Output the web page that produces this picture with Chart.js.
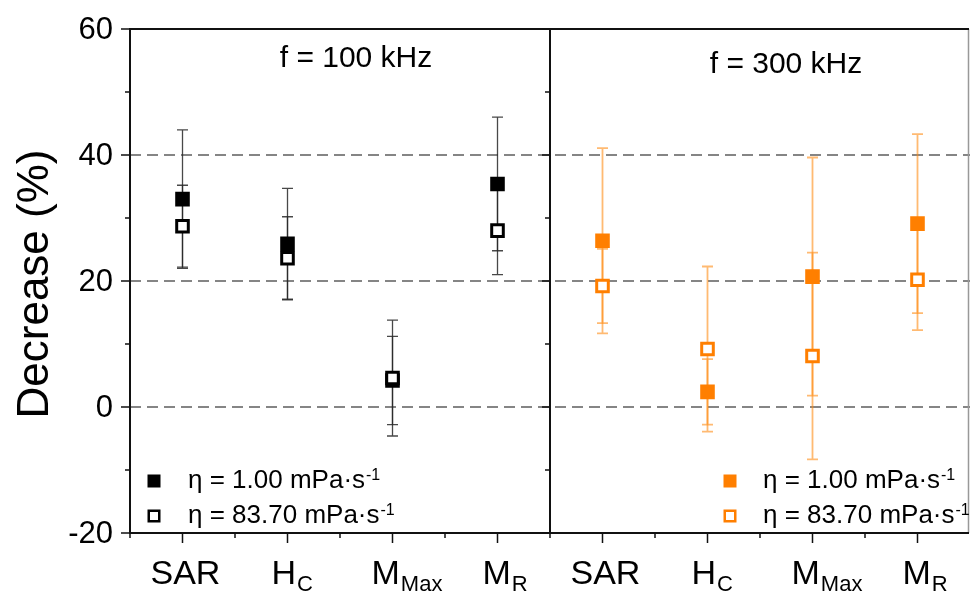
<!DOCTYPE html>
<html lang="en">
<head>
<meta charset="UTF-8">
<title>Decrease (%)</title>
<script src="https://cdn.jsdelivr.net/npm/chart.js@4"></script>
<style>
  html, body { margin: 0; padding: 0; background: #fff; }
  #wrap { width: 970px; height: 592px; }
</style>
</head>
<body>
<div id="wrap"><canvas id="chart" width="970" height="592"></canvas></div>
<script>
// categories and tick labels
const categories = ['SAR', 'HC', 'MMax', 'MR'];
const labelMain = ['SAR', 'H', 'M', 'M'];
const labelSub = ['', 'C', 'Max', 'R'];
const panelTitles = ['f = 100 kHz', 'f = 300 kHz'];
const yTicks = [-20, 0, 20, 40, 60];
const legendNames = ['\u03b7 = 1.00 mPa\u00b7s', '\u03b7 = 83.70 mPa\u00b7s'];

// f = 100 kHz
const low100 = [33.0, 25.9, 4.2, 35.4];
const low100Err = [11.0, 8.8, 7.0, 10.6];
const high100 = [28.7, 23.6, 4.6, 28.0];
const high100Err = [6.5, 6.6, 9.2, 7.0];

// f = 300 kHz
const low300 = [26.4, 2.4, 20.7, 29.1];
const low300Err = [14.7, 5.2, 18.9, 14.2];
const high300 = [19.2, 9.2, 8.1, 20.2];
const high300Err = [5.9, 13.1, 16.4, 8.0];

const FONT = '"Liberation Sans", Arial, sans-serif';
const BLACK = '#000000';
const ORANGE = '#FF7F00';
const blank = [null, null, null, null];

function series(values, errs, panel, filled) {
  const color = panel === 0 ? BLACK : ORANGE;
  return {
    data: panel === 0 ? values.concat(blank) : blank.concat(values),
    err: panel === 0 ? errs.concat(blank) : blank.concat(errs),
    errColor: panel === 0 ? 'rgba(40,40,40,0.85)' : 'rgba(255,140,20,0.6)',
    errWidth: panel === 0 ? 1.3 : 1.8,
    showLine: false,
    pointStyle: 'rect',
    pointRadius: 8.2,
    pointHoverRadius: 8.2,
    pointBorderWidth: 3,
    pointBorderColor: color,
    pointBackgroundColor: filled ? color : '#ffffff'
  };
}

// label start offset from tick (px)
const labelStart = [-32, -16, -21, -15];

const decor = {
  id: 'decor',
  beforeDatasetsDraw(chart) {
    const ctx = chart.ctx, y = chart.scales.y;
    ctx.save();
    chart.data.datasets.forEach((ds, di) => {
      const meta = chart.getDatasetMeta(di);
      ds.data.forEach((v, i) => {
        if (v === null) return;
        const px = meta.data[i].x;
        const top = y.getPixelForValue(v + ds.err[i]);
        const bot = y.getPixelForValue(v - ds.err[i]);
        ctx.strokeStyle = ds.errColor;
        ctx.lineWidth = ds.errWidth;
        ctx.beginPath();
        ctx.moveTo(px, top); ctx.lineTo(px, bot);
        ctx.moveTo(px - 5.5, top); ctx.lineTo(px + 5.5, top);
        ctx.moveTo(px - 5.5, bot); ctx.lineTo(px + 5.5, bot);
        ctx.stroke();
      });
    });
    ctx.restore();
  },
  afterDraw(chart) {
    const ctx = chart.ctx, a = chart.chartArea;
    const x = chart.scales.x, y = chart.scales.y;
    const mid = (x.getPixelForValue(3) + x.getPixelForValue(4)) / 2;
    const step = x.getPixelForValue(1) - x.getPixelForValue(0);
    ctx.save();
    // frame
    ctx.strokeStyle = '#999';
    ctx.lineWidth = 1.5;
    ctx.beginPath(); ctx.moveTo(968.5, a.top); ctx.lineTo(968.5, a.bottom); ctx.stroke();
    ctx.strokeStyle = '#111';
    ctx.lineWidth = 2;
    ctx.beginPath();
    ctx.moveTo(a.left, a.top); ctx.lineTo(969, a.top);
    ctx.moveTo(a.left, a.top - 1); ctx.lineTo(a.left, a.bottom + 1);
    ctx.moveTo(mid, a.top); ctx.lineTo(mid, a.bottom);
    ctx.moveTo(a.left - 1, a.bottom); ctx.lineTo(969, a.bottom);
    ctx.stroke();
    // y ticks
    ctx.lineWidth = 1.5;
    ctx.beginPath();
    for (let v = -20; v <= 60; v += 10) {
      const py = y.getPixelForValue(v);
      const major = v % 20 === 0;
      ctx.moveTo(a.left - (major ? 9 : 5), py); ctx.lineTo(a.left, py);
      ctx.moveTo(mid - (major ? 8 : 5), py); ctx.lineTo(mid, py);
    }
    // x ticks
    for (let i = 0; i < 8; i++) {
      const px = x.getPixelForValue(i);
      ctx.moveTo(px, a.bottom); ctx.lineTo(px, a.bottom + 10);
      ctx.moveTo(px - step / 2, a.bottom); ctx.lineTo(px - step / 2, a.bottom + 5);
    }
    ctx.stroke();
    // y tick labels
    ctx.fillStyle = BLACK;
    ctx.font = '31px ' + FONT;
    ctx.textAlign = 'right';
    ctx.textBaseline = 'middle';
    yTicks.forEach(v => ctx.fillText(String(v), a.left - 17, y.getPixelForValue(v) + 1));
    // x labels with subscripts
    ctx.textBaseline = 'alphabetic';
    ctx.textAlign = 'left';
    for (let i = 0; i < 8; i++) {
      const k = i % 4;
      const sx = x.getPixelForValue(i) + labelStart[k];
      ctx.font = '34px ' + FONT;
      ctx.fillText(labelMain[k], sx, 584);
      const w = ctx.measureText(labelMain[k]).width;
      if (labelSub[k]) {
        ctx.font = '22px ' + FONT;
        ctx.fillText(labelSub[k], sx + w + 1, 591);
      }
    }
    // y title
    ctx.save();
    ctx.translate(36, 284);
    ctx.rotate(-Math.PI / 2);
    ctx.textAlign = 'center';
    ctx.textBaseline = 'middle';
    ctx.font = '44px ' + FONT;
    ctx.fillText('Decrease (%)', 0, 0);
    ctx.restore();
    // panel titles
    ctx.font = '30px ' + FONT;
    ctx.textAlign = 'center';
    ctx.fillText(panelTitles[0], 356, 67);
    ctx.fillText(panelTitles[1], 786, 73);
    // legends
    const legends = [{ sx: 154, tx: 188, color: BLACK }, { sx: 730, tx: 763, color: ORANGE }];
    legends.forEach(L => {
      [0, 1].forEach(r => {
        const cy = 481 + r * 35;
        ctx.fillStyle = L.color;
        if (r === 0) {
          ctx.fillRect(L.sx - 6.5, cy - 6.5, 13, 13);
        } else {
          ctx.strokeStyle = L.color;
          ctx.lineWidth = 2.5;
          ctx.strokeRect(L.sx - 5.25, cy - 5.25, 10.5, 10.5);
        }
        ctx.fillStyle = BLACK;
        ctx.textAlign = 'left';
        ctx.font = '26px ' + FONT;
        const base = 488 + r * 35;
        ctx.fillText(legendNames[r], L.tx, base);
        const w = ctx.measureText(legendNames[r]).width;
        ctx.font = '16px ' + FONT;
        ctx.fillText('-1', L.tx + w + 1, base - 8);
      });
    });
    ctx.restore();
  }
};

new Chart(document.getElementById('chart'), {
  type: 'line',
  data: {
    labels: categories.concat(categories),
    datasets: [
      series(high100, high100Err, 0, false),
      series(high300, high300Err, 1, false),
      series(low100, low100Err, 0, true),
      series(low300, low300Err, 1, true)
    ]
  },
  options: {
    responsive: false,
    animation: false,
    devicePixelRatio: 1,
    layout: { autoPadding: false, padding: { top: 29, left: 0, right: 0, bottom: 0 } },
    plugins: { legend: { display: false }, tooltip: { enabled: false } },
    scales: {
      x: {
        type: 'category',
        offset: true,
        grid: { display: false },
        border: { display: false },
        ticks: { display: false },
        afterFit(s) { s.height = 59; }
      },
      y: {
        min: -20,
        max: 60,
        afterBuildTicks(s) { s.ticks = yTicks.map(v => ({ value: v })); },
        afterFit(s) { s.width = 130; },
        border: { display: false, dash: [11, 6] },
        grid: {
          drawTicks: false,
          lineWidth: 2,
          color: c => (c.tick && c.tick.value > -20 && c.tick.value < 60) ? '#858585' : 'rgba(0,0,0,0)'
        },
        ticks: { display: false }
      }
    }
  },
  plugins: [decor]
});
</script>
</body>
</html>
